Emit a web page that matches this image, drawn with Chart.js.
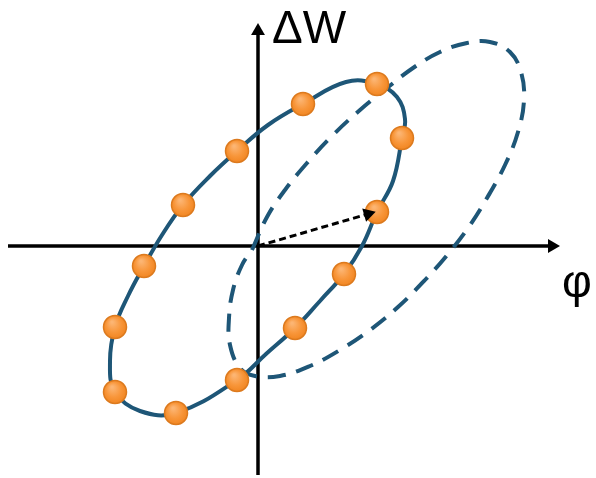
<!DOCTYPE html>
<html>
<head>
<meta charset="utf-8">
<script src="https://cdn.jsdelivr.net/npm/chart.js@4/dist/chart.umd.min.js"></script>
<style>
  html, body { margin: 0; padding: 0; background: #fff; }
  #wrap { width: 596px; height: 478px; position: relative; }
</style>
</head>
<body>
<div id="wrap"><canvas id="phaseChart"></canvas></div>
<script>
// phase-space picture, origin at the axis crossing, y up
const axisLabels = ['\u0394W', '\u03C6'];

// solid orbit (matched beam), traced around the ellipse
const solidOrbit = [
  [62, -55], [86, -28], [104, 0], [119, 34], [135, 65], [144, 108], [147, 127],
  [139, 149], [119, 162], [88, 164], [45, 142], [10, 121],
  [-21, 95], [-48, 70], [-75, 41], [-96, 11], [-114, -20], [-130, -50],
  [-143, -81], [-148, -115], [-143, -146], [-118, -165], [-82, -167],
  [-21, -134], [8, -108], [37, -82], [62, -55],
];

// particles sitting on the solid orbit
const particles = [
  [119, 162], [45, 142], [-21, 95], [-75, 41], [-114, -20], [-143, -81],
  [-143, -146], [-82, -167], [-21, -134], [37, -82], [86, -28], [119, 34],
  [144, 108],
];

// dashed orbit (mismatched), traced around
const dashedOrbit = [
  [-6, -4], [9, 29], [27, 56], [49, 83], [75, 111], [102, 136], [129, 158],
  [155, 178], [182, 194], [209, 203], [232, 204], [252, 194], [263, 174],
  [266, 146], [260, 114], [247, 81], [229, 48], [210, 18], [190, -8],
  [167, -34], [140, -61], [112, -84], [82, -104], [52, -120], [22, -130],
  [-3, -130], [-18, -122], [-28, -99], [-29, -72], [-25, -44], [-16, -19],
  [-6, -4],
];

const arrowStart = [0, 0];
const arrowEnd = [110, 32];

const xAxisLine = [[-250, 0], [294, 0]];
const yAxisLine = [[0, -229], [0, 215]];

const toPoints = (pairs) => pairs.map(([x, y]) => ({ x, y }));

const blue = '#1e5677';
const arrowAngle = Math.atan2(arrowEnd[0] - arrowStart[0], arrowEnd[1] - arrowStart[1]) * 180 / Math.PI;

// shaded orange balls
function ballFill(context) {
  const { chart, raw } = context;
  if (!raw || !chart.scales.x) return '#f7922f';
  const px = chart.scales.x.getPixelForValue(raw.x);
  const py = chart.scales.y.getPixelForValue(raw.y);
  if (!isFinite(px) || !isFinite(py)) return '#f7922f';
  const g = chart.ctx.createRadialGradient(px - 3, py - 5, 1, px, py, 13);
  g.addColorStop(0, '#fcb573');
  g.addColorStop(0.55, '#f8963a');
  g.addColorStop(1, '#f0821c');
  return g;
}

const labelPlugin = {
  id: 'axisText',
  afterDatasetsDraw(chart) {
    const { ctx, scales } = chart;
    ctx.save();
    ctx.fillStyle = '#000';
    ctx.font = '46px "Liberation Sans", Arial, sans-serif';
    ctx.textBaseline = 'alphabetic';
    ctx.textAlign = 'left';
    ctx.fillText(axisLabels[0], scales.x.getPixelForValue(14), scales.y.getPixelForValue(203));
    ctx.textAlign = 'center';
    ctx.fillText(axisLabels[1], scales.x.getPixelForValue(319), scales.y.getPixelForValue(-51));
    ctx.restore();
  },
};

const lineBase = {
  showLine: true,
  pointRadius: 0,
  pointHoverRadius: 0,
  fill: false,
  clip: false,
};

new Chart(document.getElementById('phaseChart'), {
  type: 'scatter',
  data: {
    datasets: [
      {
        ...lineBase,
        label: 'displacement',
        data: toPoints([arrowStart, arrowEnd]),
        borderColor: '#000',
        borderWidth: 3,
        borderDash: [7, 4],
        pointStyle: 'triangle',
        pointRadius: [0, 8],
        pointBackgroundColor: '#000',
        pointBorderWidth: 0,
        pointRotation: arrowAngle,
        order: 0,
      },
      {
        label: 'particles',
        data: toPoints(particles),
        pointRadius: 11.5,
        pointHoverRadius: 11.5,
        pointBackgroundColor: ballFill,
        pointBorderColor: '#dc7a1e',
        pointBorderWidth: 1.5,
        clip: false,
        order: 1,
      },
      {
        ...lineBase,
        label: 'matched orbit',
        data: toPoints(solidOrbit),
        borderColor: blue,
        borderWidth: 4,
        tension: 0.4,
        order: 2,
      },
      {
        ...lineBase,
        label: 'mismatched orbit',
        data: toPoints(dashedOrbit),
        borderColor: blue,
        borderWidth: 4,
        borderDash: [18, 11],
        tension: 0.4,
        order: 3,
      },
      {
        ...lineBase,
        label: 'phi axis',
        data: toPoints(xAxisLine),
        borderColor: '#000',
        borderWidth: 3.5,
        pointStyle: 'triangle',
        pointRadius: [0, 8],
        pointBackgroundColor: '#000',
        pointBorderWidth: 0,
        pointRotation: 90,
        order: 4,
      },
      {
        ...lineBase,
        label: 'dW axis',
        data: toPoints(yAxisLine),
        borderColor: '#000',
        borderWidth: 3.5,
        pointStyle: 'triangle',
        pointRadius: [0, 8],
        pointBackgroundColor: '#000',
        pointBorderWidth: 0,
        pointRotation: 0,
        order: 4,
      },
    ],
  },
  options: {
    responsive: true,
    maintainAspectRatio: false,
    animation: false,
    layout: { padding: 0, autoPadding: false },
    scales: {
      x: { type: 'linear', min: -258, max: 338, display: false },
      y: { type: 'linear', min: -232, max: 246, display: false },
    },
    plugins: {
      legend: { display: false },
      tooltip: { enabled: false },
    },
    events: [],
  },
  plugins: [labelPlugin],
});
</script>
</body>
</html>
